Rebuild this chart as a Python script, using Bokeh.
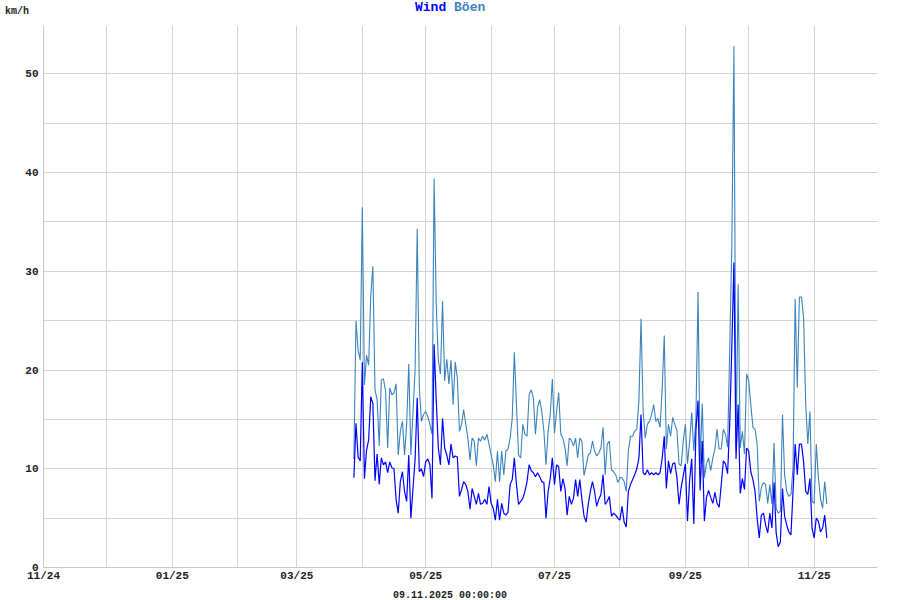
from datetime import datetime
import pandas as pd
from bokeh.plotting import figure
from bokeh.layouts import column
from bokeh.models import (ColumnDataSource, Range1d, FixedTicker, CustomJSTickFormatter, Div)
from bokeh.embed import file_html
from bokeh.resources import INLINE

# ---- data (daily values, km/h) ----
start_day = "2025-03-28"
gust = [11, 25, 22, 21, 36.5, 18.5, 21.5, 20.5, 27.5, 30.5,
        18, 17, 12.3, 19, 19.1, 17.9, 12.1, 18.2, 17.5, 17.7,
        18.6, 11.4, 13.8, 14.8, 11.4, 14.5, 20.6, 11.4, 15.8, 20,
        34.3, 18.2, 14.8, 15.5, 15.8, 15.3, 14.5, 13.5, 39.4, 26.7,
        21, 19.6, 27, 18.9, 21.1, 18.6, 21, 16.5, 20.8, 19.2,
        13.8, 14.5, 16, 14.5, 13.1, 10.9, 13.1, 12.8, 10.3, 13.1,
        12.8, 13.3, 12.9, 13.5, 12.5, 11.4, 10.4, 8.7, 11.8, 8.7,
        11.8, 9.4, 11.8, 12, 13.1, 15.1, 21.8, 16.5, 11.4, 11.1,
        14.5, 13.5, 13.3, 17.5, 18, 17.2, 13.5, 16.2, 17, 15.8,
        13.8, 10.4, 13.8, 15.5, 19.1, 13.6, 15.8, 17.7, 13.5, 13.1,
        12.1, 10.3, 13.1, 12.9, 12.3, 13.1, 11.1, 13.1, 12.8, 9.3,
        10.3, 11.4, 11.6, 12.8, 11.8, 11.3, 11.6, 12.1, 14.2, 9.4,
        12.5, 12.8, 9.9, 9.7, 9.4, 8.6, 9.1, 9.1, 8.7, 7.7,
        11.8, 13.3, 13.3, 13.8, 14, 16.9, 25.2, 15.8, 13.1, 14.5,
        14.8, 15.5, 16.5, 14.8, 15.1, 14.2, 18, 23.5, 12, 14.5,
        13.3, 15.2, 14.5, 13.9, 10.5, 10.3, 12.8, 14.5, 10.5, 12.7,
        15.7, 11.8, 15.2, 27.9, 10.5, 16.6, 9.1, 10.5, 11.1, 9.8,
        11.1, 12, 14, 12, 12, 14, 13.5, 12.2, 22, 32.5,
        52.8, 12, 28.7, 12.1, 13.8, 11.5, 19.6, 18.9, 16.5, 14.2,
        14, 12.5, 6.7, 8.1, 8.6, 8.4, 6.5, 8.4, 6.4, 12.6,
        6, 5.5, 5.7, 15.5, 9.4, 7.7, 7.2, 7.4, 10.1, 27.2,
        18.2, 27.4, 27.4, 25.3, 16.5, 12.5, 15.8, 6.7, 6.5, 12.5,
        9.1, 7, 6, 8.7, 6.4]
wind = [9.1, 14.6, 11.2, 10.8, 20.8, 9, 11.9, 12.9, 17.3, 16.6,
        8.8, 11.5, 8.4, 11.1, 10.4, 10.7, 9.6, 10.7, 10.1, 10,
        6.9, 5.5, 8.7, 9.7, 7.7, 6.7, 11.4, 5, 8, 11,
        17.2, 9.7, 10, 9.2, 10.7, 11, 10.4, 7, 22.6, 17,
        12.1, 10.4, 15.1, 12.1, 11.4, 10.4, 12.5, 11.1, 11.3, 11.2,
        7.2, 7.9, 8.7, 8.4, 7.7, 5.9, 8, 7.2, 6.4, 7.5,
        6.4, 6.5, 6.9, 6.4, 8.2, 6.5, 6, 4.8, 6.9, 4.8,
        6.5, 5.5, 5.3, 5.6, 8.4, 8.9, 11.1, 8.4, 6.4, 6.7,
        7, 7.7, 8.7, 10.4, 9.8, 9.6, 9.2, 9.6, 9.2, 8.7,
        8.6, 5, 7.7, 9, 11.1, 8.4, 10.4, 10.2, 7.7, 9,
        8, 5.3, 7.2, 6.4, 7, 8.9, 7.2, 8.9, 6.9, 5.2,
        4.6, 6.4, 7.7, 8.7, 7.7, 6.2, 6.9, 7.4, 9.4, 6.4,
        6.7, 7.2, 5.2, 5.5, 5.3, 5, 4.8, 6.2, 4.6, 4.1,
        7.7, 8.4, 8.9, 9.4, 10, 11.1, 15.5, 9.6, 9.4, 9.9,
        9.4, 9.6, 9.4, 9.6, 9.4, 9.6, 11, 13.3, 8, 10.8,
        9.5, 10.5, 10.6, 9.1, 6.4, 8.1, 9.3, 10.5, 4.7, 8.8,
        11, 4.4, 13.9, 16.9, 7.8, 12.8, 4.7, 7.1, 7.8, 7.1,
        6.5, 7.6, 6.5, 6.1, 8.4, 10.8, 10.5, 9.5, 14.5, 22.3,
        30.9, 11, 16.5, 7.5, 9, 7.9, 12.1, 11.8, 9.7, 8.9,
        7.7, 5, 3, 5.3, 5.5, 4.3, 3.5, 5.5, 4, 8.6,
        3.5, 2.1, 2.6, 8, 5.2, 4.3, 3.6, 3.3, 7.7, 12.5,
        9.4, 12.5, 12.5, 10.7, 7.7, 7.4, 9, 4, 3, 5,
        4.7, 3.6, 4, 5.3, 3]
month_ticks = pd.date_range("2024-11-01", "2025-12-01", freq="MS")
y_label_ticks = [0, 10, 20, 30, 40, 50]
y_grid_ticks = [0, 5, 10, 15, 20, 25, 30, 35, 40, 45, 50]
title_wind = "Wind"
title_gust = "Böen"
unit_label = "km/h"
date_label = "09.11.2025 00:00:00"

dates = pd.date_range(start_day, periods=len(wind), freq="D")
src = ColumnDataSource(dict(date=dates, wind=wind, gust=gust))

WIND_C = "#0000ff"
GUST_C = "#3c83bd"
FONT = "Liberation Mono"

p = figure(width=900, height=565, x_axis_type="datetime",
           output_backend="svg", toolbar_location=None,
           min_border_left=43, min_border_right=23,
           min_border_top=5, min_border_bottom=18)
p.x_range = Range1d(datetime(2024, 11, 1), datetime(2025, 12, 1))
p.y_range = Range1d(0, 54.9)
p.outline_line_color = None
p.background_fill_color = "white"
p.border_fill_color = "white"

ms_ticks = [t.value / 1e6 for t in month_ticks]
p.xaxis.ticker = FixedTicker(ticks=ms_ticks)
p.xgrid.ticker = FixedTicker(ticks=ms_ticks)
p.xaxis.formatter = CustomJSTickFormatter(code="""
const d = new Date(tick);
const m = d.getUTCMonth() + 1;
if (m % 2 == 0) return '';
return String(m).padStart(2, '0') + '/' + String(d.getUTCFullYear() % 100).padStart(2, '0');
""")
p.yaxis.ticker = FixedTicker(ticks=y_label_ticks)
p.ygrid.ticker = FixedTicker(ticks=y_grid_ticks)

for ax in (p.xaxis[0], p.yaxis[0]):
    ax.axis_line_color = "#c8c8c8"
    ax.major_tick_line_color = None
    ax.minor_tick_line_color = None
    ax.major_tick_out = 0
    ax.major_tick_in = 0
    ax.minor_tick_out = 0
    ax.minor_tick_in = 0
    ax.major_label_text_font = FONT
    ax.major_label_text_font_style = "bold"
    ax.major_label_text_font_size = "11px"
    ax.major_label_text_color = "#222222"
p.xaxis.major_label_standoff = 2
p.yaxis.major_label_standoff = 5

for g in (p.xgrid[0], p.ygrid[0]):
    g.grid_line_color = "#d4d4d4"
    g.grid_line_width = 1

p.line("date", "gust", source=src, color=GUST_C, line_width=1.1)
p.line("date", "wind", source=src, color=WIND_C, line_width=1.2)

font_css = "font-family:'Liberation Mono',monospace;font-weight:bold;"
top = Div(width=900, height=20, margin=0, text=(
    f'<div style="position:relative;width:900px;height:20px;{font_css}color:#222;">'
    f'<span style="position:absolute;left:5px;top:6px;font-size:10px;line-height:12px;">{unit_label}</span>'
    f'<span style="position:absolute;left:415px;top:0px;font-size:13px;line-height:15px;white-space:pre;">'
    f'<span style="color:{WIND_C}">{title_wind}</span> <span style="color:{GUST_C}">{title_gust}</span></span>'
    '</div>'))
bottom = Div(width=900, height=15, margin=0, text=(
    f'<div style="position:relative;width:900px;height:15px;{font_css}color:#222;">'
    f'<span style="position:absolute;left:0;width:900px;text-align:center;top:5px;font-size:10px;line-height:12px;">{date_label}</span>'
    '</div>'))

layout = column(top, p, bottom, spacing=0)
open("out.html", "w").write(file_html(layout, INLINE))
